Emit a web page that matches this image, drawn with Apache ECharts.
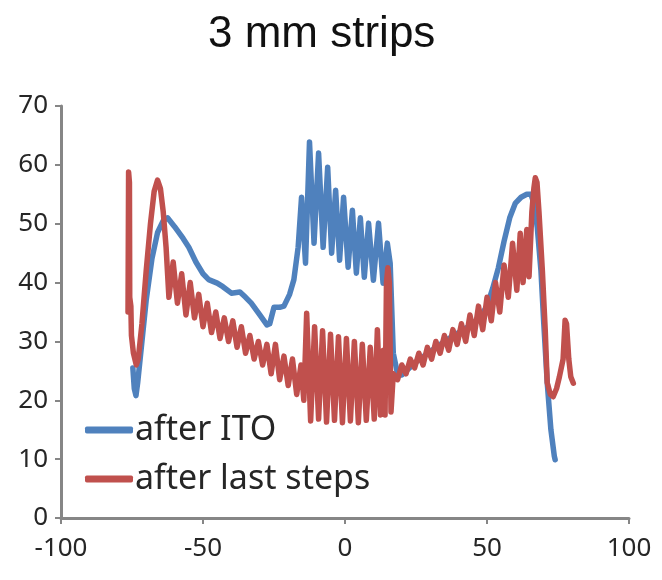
<!DOCTYPE html>
<html>
<head>
<meta charset="utf-8">
<script src="https://cdn.jsdelivr.net/npm/echarts@6/dist/echarts.min.js"></script>
<style>
html,body{margin:0;padding:0;background:#fff;}
#chart{width:662px;height:580px;}
</style>
</head>
<body>
<div id="chart"></div>
<script>
const titleText = '3 mm strips';
const seriesNames = ['after ITO', 'after last steps'];
const xTicks = [-100, -50, 0, 50, 100];
const yTicks = [0, 10, 20, 30, 40, 50, 60, 70];

const blueX = [-74.7,-74.2,-73.6,-73,-71.5,-70,-68,-66,-64,-62.5,-60,-57,-55,-52.5,-50,-48,-45,-43,-40,-37,-35,-33,-30,-27.5,-26.5,-25,-23,-21.5,-19.5,-18,-16.5,-15.3,-13.9,-12.5,-10.9,-9.3,-7.7,-6.1,-4.7,-3.3,-1.9,-0.5,1.1,2.6,4,5.4,6.8,8.3,10,11.8,13.4,14.9,15.9,17,18.5,20,22,25,30,35,40,45,48,50,52,54,56,58,60,62,64,65.5,66.5,67.7,69,70,71.2,72.5,73.7,74];
const blueY = [25.5,22,20.8,23,30,37,44,48.5,50.5,51,49.5,47.5,46,43.5,41.5,40.5,39.9,39.3,38.2,38.4,37.5,36.5,34.5,32.8,33,35.8,35.8,36,38,40.5,46,54.5,43.3,63.9,46.7,62,46,59.6,45,55.7,43.8,54.5,42.6,52.3,41.6,51,40.9,50.1,40.4,50.1,39.9,46.7,43.3,28,24.5,24.3,25.2,26.5,28.3,30,31.5,33,34.5,36,39,42.5,47,51,53.5,54.5,55,55,53.5,49.4,42,33,23,15,10.5,9.9];

const redX = [-76.4,-76.2,-75.9,-75.8,-75.4,-75.2,-74.5,-73.5,-72.8,-71.5,-70,-68.5,-67.2,-66,-65,-64,-63,-62,-60.5,-59,-57.5,-56,-54.5,-53,-51.5,-50,-48.5,-47,-45.5,-44,-42.5,-41,-39.5,-38,-36.5,-35,-33.5,-32,-30.5,-29,-27.5,-26,-24.5,-23,-21.5,-20,-18.5,-17,-15.5,-14.5,-13.5,-12.1,-10.7,-9.3,-7.9,-6.5,-5.1,-3.7,-2.3,-0.9,0.5,1.9,3.3,4.7,6.1,7.5,8.9,10.3,11.4,12.5,13.5,14.1,14.6,15.1,15.6,16.2,17,18.5,20,21.5,23,24.5,26,27.5,29,30.5,32,33.5,35,36.5,38,39.5,41,42.5,44,45.5,47,48.5,50,51.5,53,54.5,56,57.5,59,60.5,61.7,62.7,64,64.8,65.8,66.5,67,67.6,68.3,69.5,70.5,71.2,72.3,73.3,74.5,75.5,76.8,77.5,78,78.8,79.5,80.4];
const redY = [35,58.8,57,37.5,36,31,28,26,27,33,42,50,55.5,57.4,56,52,46,37.5,43.5,36.5,41.5,34.5,40,34,38,32.5,36.5,31.5,35,30.5,34,30,33.5,29,32.5,28,31,27,30,26,29.5,24.5,29.5,23.5,27.5,22.5,27,21,26,20,34.8,16.5,32.5,16.8,31.8,16.3,31.2,16.6,30.8,16.2,30.5,16.5,30,16.2,29.5,16.6,29,16.8,32,17.5,28.5,17.5,40,42.5,40,18,24.5,23.5,26,24.5,27,25.5,28,26,29,27,30,28,31,28.5,32,29.5,33,30,34.5,31,36,32,37.5,33.5,40,35,43,37.5,46.7,38.7,48.4,40,49,41,52,56,57.8,57,52,42,32,23,21,20.6,22,24,27,33.6,33,27,24,22.9];

const zip = (xs, ys) => xs.map((x, i) => [x, ys[i]]);

const chart = echarts.init(document.getElementById('chart'), null, {renderer: 'canvas'});
const axisColor = '#868686';
const labelFont = 'Noto Sans';
chart.setOption({
  animation: false,
  backgroundColor: '#ffffff',
  title: {
    text: titleText,
    left: 203,
    top: 8,
    textStyle: {fontFamily: 'Liberation Sans', fontSize: 44, fontWeight: 'normal', color: '#111'}
  },
  legend: {
    orient: 'vertical',
    left: 85,
    top: 411,
    padding: 0,
    itemGap: 11,
    itemWidth: 48,
    itemHeight: 7,
    icon: 'roundRect',
    data: seriesNames,
    textStyle: {fontFamily: labelFont, fontSize: 34, color: '#262626', lineHeight: 38, padding: [0, 0, 0, -3]}
  },
  grid: {left: 61, right: 33, top: 106, bottom: 62, containLabel: false},
  xAxis: {
    type: 'value',
    min: xTicks[0],
    max: xTicks[xTicks.length - 1],
    interval: xTicks[1] - xTicks[0],
    splitLine: {show: false},
    axisLine: {onZero: false, lineStyle: {color: axisColor, width: 3}},
    axisTick: {length: 6, lineStyle: {color: axisColor, width: 2}},
    axisLabel: {margin: 18, fontFamily: labelFont, fontSize: 26, color: '#262626'}
  },
  yAxis: {
    type: 'value',
    min: yTicks[0],
    max: yTicks[yTicks.length - 1],
    interval: yTicks[1] - yTicks[0],
    splitLine: {show: false},
    axisLine: {show: true, onZero: false, lineStyle: {color: axisColor, width: 3}},
    axisTick: {show: true, length: 6, lineStyle: {color: axisColor, width: 2}},
    axisLabel: {margin: 13, fontFamily: labelFont, fontSize: 26, color: '#262626'}
  },
  series: [
    {
      name: seriesNames[0],
      type: 'line',
      data: zip(blueX, blueY),
      showSymbol: false,
      symbol: 'none',
      color: '#4f81bd',
      lineStyle: {width: 5.5, color: '#4f81bd', join: 'round', cap: 'round'}
    },
    {
      name: seriesNames[1],
      type: 'line',
      data: zip(redX, redY),
      showSymbol: false,
      symbol: 'none',
      color: '#c0504d',
      lineStyle: {width: 5.5, color: '#c0504d', join: 'round', cap: 'round'}
    }
  ]
});
</script>
</body>
</html>
